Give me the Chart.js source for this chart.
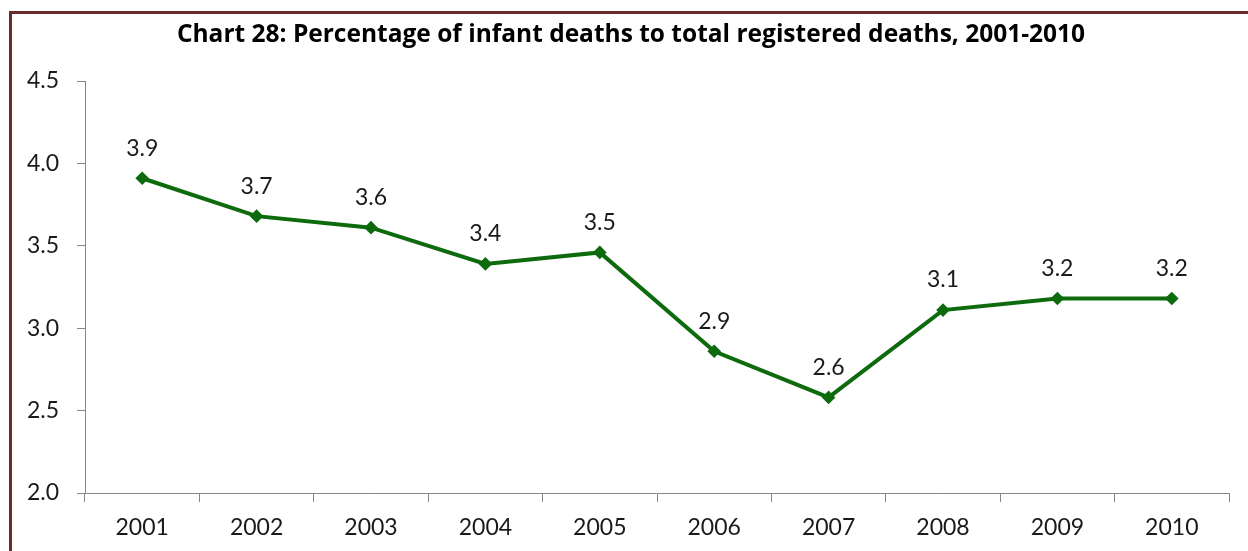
<!DOCTYPE html>
<html>
<head>
<meta charset="utf-8">
<script src="https://cdn.jsdelivr.net/npm/chart.js@4"></script>
<style>
  body { margin: 0; background: #fff; }
  #marco { position: absolute; left: 9px; top: 11px; width: 1400px; height: 700px; border: 3px solid #6b2b2b; }
  #wrap { position: absolute; left: 0; top: 0; width: 1248px; height: 551px; }
</style>
</head>
<body>
<div id="marco"></div>
<div id="wrap"><canvas id="grafico"></canvas></div>
<script>
// datos
const titulo = 'Chart 28: Percentage of infant deaths to total registered deaths, 2001-2010';
const anios = ['2001', '2002', '2003', '2004', '2005', '2006', '2007', '2008', '2009', '2010'];
const porcentajes = [3.91, 3.68, 3.61, 3.39, 3.46, 2.86, 2.58, 3.11, 3.18, 3.18];
const yTicks = [2.0, 2.5, 3.0, 3.5, 4.0, 4.5];

const fuente = 'Lato, "Open Sans", sans-serif';

// titulo y etiquetas encima de cada punto
const etiquetas = {
    id: 'etiquetas',
    afterDatasetsDraw(chart) {
        const ctx = chart.ctx;
        const meta = chart.getDatasetMeta(0);
        ctx.save();
        ctx.textAlign = 'center';
        ctx.textBaseline = 'middle';
        ctx.font = 'bold 24.5px "Open Sans", sans-serif';
        ctx.fillStyle = '#000';
        ctx.fillText(titulo, 631, 35);
        ctx.font = '23px ' + fuente;
        ctx.fillStyle = '#1a1a1a';
        meta.data.forEach((p, i) => {
            ctx.fillText(porcentajes[i].toFixed(1), p.x, p.y - 30);
        });
        ctx.restore();
    }
};

const ctx = document.getElementById('grafico').getContext('2d');
const chart = new Chart(ctx, {
    type: 'line',
    data: {
        labels: anios,
        datasets: [{
            data: porcentajes,
            borderColor: '#0d6a0d',
            backgroundColor: '#0d6a0d',
            borderWidth: 4,
            pointStyle: 'rectRot',
            pointRadius: 4,
            tension: 0,
            fill: false
        }]
    },
    options: {
        responsive: true,
        maintainAspectRatio: false,
        animation: false,
        layout: { padding: { top: 81, right: 19, bottom: 0, left: 0 } },
        plugins: {
            legend: { display: false },
            tooltip: { enabled: false },
            title: { display: false }
        },
        scales: {
            x: {
                offset: true,
                grid: { display: true, offset: true, drawOnChartArea: false, tickLength: 9, color: '#868686' },
                border: { color: '#868686' },
                ticks: { color: '#1a1a1a', font: { family: fuente, size: 23 }, padding: 12, maxRotation: 0 },
                afterFit(s) { s.height = 58; }
            },
            y: {
                min: 2, max: 4.5,
                afterBuildTicks(s) { s.ticks = yTicks.map(v => ({ value: v })); },
                grid: { display: true, drawOnChartArea: false, tickLength: 8, color: '#868686' },
                border: { color: '#868686' },
                ticks: {
                    color: '#1a1a1a', font: { family: fuente, size: 23 }, padding: 18,
                    callback: v => v.toFixed(1)
                },
                afterFit(s) { s.width = 85; }
            }
        }
    },
    plugins: [etiquetas]
});
</script>
</body>
</html>
